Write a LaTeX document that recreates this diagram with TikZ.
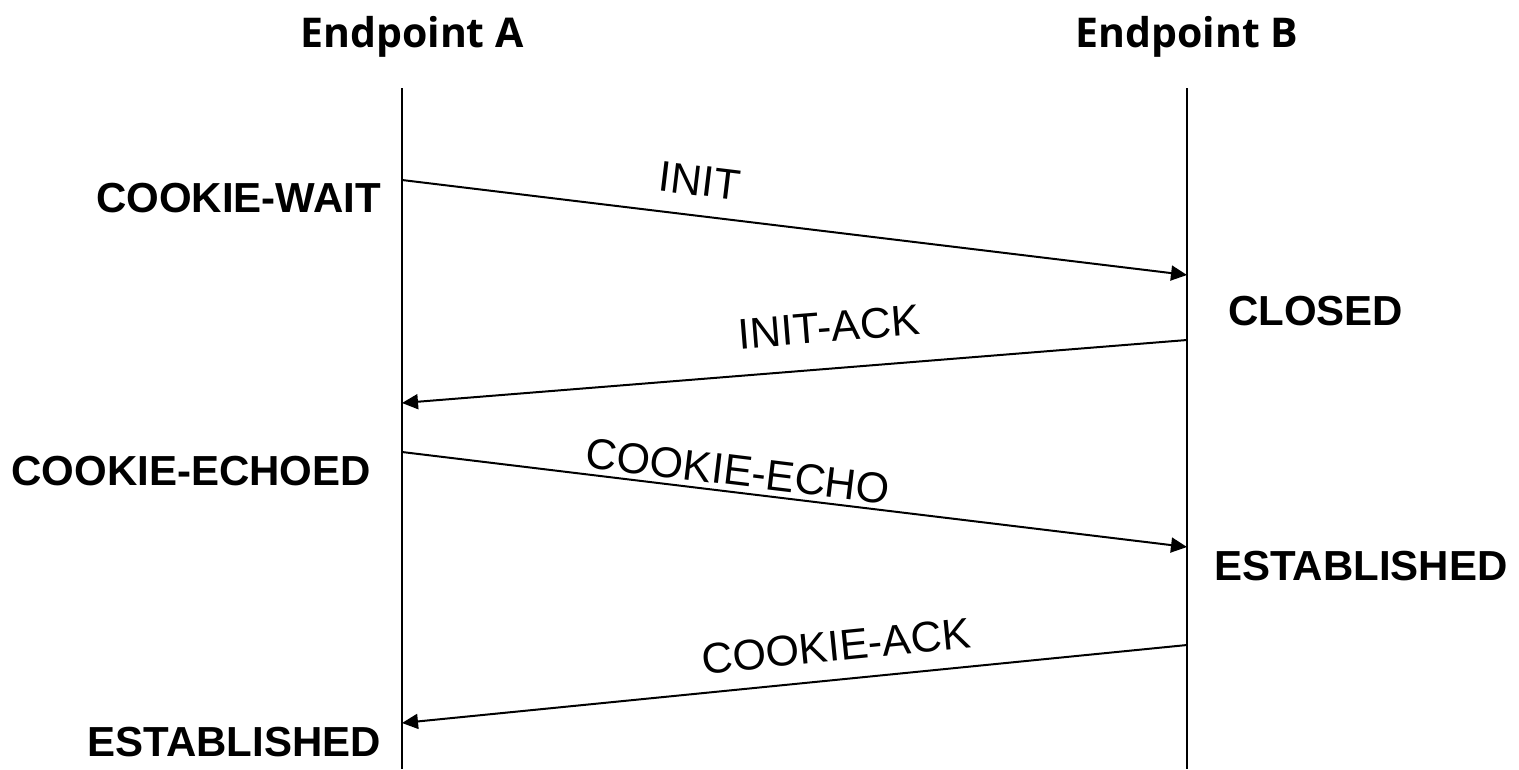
\documentclass[tikz,border=0pt]{standalone}
\usepackage{fontspec}
\setmainfont{Liberation Sans}
\newfontfamily\headfont{Open Sans}
\usetikzlibrary{arrows.meta}
\tikzset{
  lifeline/.style={line width=2pt},
  msgarrow/.style={line width=2pt,-{Triangle[length=16pt,width=15pt]}},
  msglabel/.style={inner sep=0pt,font=\fontsize{43}{50}\selectfont},
  statelabel/.style={inner sep=0pt,font=\fontsize{42}{50}\selectfont\bfseries},
  headlabel/.style={inner sep=0pt,anchor=base,font=\headfont\fontsize{41}{50}\selectfont\bfseries}
}
\begin{document}
\begin{tikzpicture}[x=1pt,y=-1pt]
\useasboundingbox (0,0) rectangle (1519,769);
% column headings
\node[headlabel] (hA) at (412,47) {Endpoint A};
\node[headlabel] (hB) at (1187,47) {Endpoint B};
% lifelines
\coordinate (At) at (402,88);  \coordinate (Ab) at (402,769);
\coordinate (Bt) at (1187,88); \coordinate (Bb) at (1187,769);
\draw[lifeline] (At) -- (Ab);
\draw[lifeline] (Bt) -- (Bb);
% message end points on the lifelines
\coordinate (a1) at (402,180);  \coordinate (b1) at (1187,275);
\coordinate (b2) at (1187,340); \coordinate (a2) at (402,403);
\coordinate (a3) at (402,452);  \coordinate (b3) at (1187,547);
\coordinate (b4) at (1187,645); \coordinate (a4) at (402,723);
% messages
\draw[msgarrow] (a1) -- (b1);
\draw[msgarrow] (b2) -- (a2);
\draw[msgarrow] (a3) -- (b3);
\draw[msgarrow] (b4) -- (a4);
% message names
\node[msglabel,rotate=-6.9] (m1) at (700,181) {INIT};
\node[msglabel,rotate=4.6]  (m2) at (829,327) {INIT-ACK};
\node[msglabel,rotate=-6.9] (m3) at (738,471) {COOKIE-ECHO};
\node[msglabel,rotate=5.7]  (m4) at (836,646) {COOKIE-ACK};
% association states
\node[statelabel,anchor=base east] (s1) at (381,212) {COOKIE-WAIT};
\node[statelabel,anchor=base west] (s2) at (1228,325) {CLOSED};
\node[statelabel,anchor=base east] (s3) at (371,485) {COOKIE-ECHOED};
\node[statelabel,anchor=base west] (s4) at (1214,580) {ESTABLISHED};
\node[statelabel,anchor=base east] (s5) at (381,756) {ESTABLISHED};
\end{tikzpicture}
\end{document}
